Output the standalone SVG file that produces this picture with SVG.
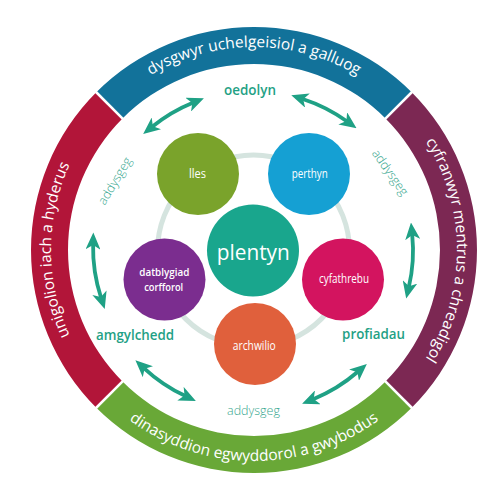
<svg xmlns="http://www.w3.org/2000/svg" width="500" height="500" viewBox="0 0 500 500">
<defs>
<style>
.seg-label{font-family:"Open Sans","Noto Sans","DejaVu Sans",sans-serif;font-size:15.5px;fill:#ffffff;}
.node-label{font-family:"Open Sans","Noto Sans","DejaVu Sans",sans-serif;font-size:12.5px;fill:#ffffff;text-anchor:middle;}
.ctx{font-family:"Open Sans","Noto Sans","DejaVu Sans",sans-serif;font-size:14.5px;fill:#1fa185;text-anchor:middle;font-weight:600;}
.ped{font-family:"Open Sans","Noto Sans","DejaVu Sans",sans-serif;font-size:12.5px;fill:#36a68e;text-anchor:middle;font-weight:300;}
.arrow{fill:none;stroke:#1fa185;stroke-width:3.8;marker-start:url(#ah);marker-end:url(#ah);}
.gap{stroke:#ffffff;stroke-width:2.5;}
</style>
<marker id="ah" markerUnits="userSpaceOnUse" viewBox="0 0 17 15" markerWidth="17" markerHeight="15" refX="5" refY="7.5" orient="auto-start-reverse">
<path d="M0,0 L17,7.5 L0,15 L4.5,7.5 Z" fill="#1fa185"/>
</marker>
<path id="tp-top" d="M110.46,106.46 A203,203 0 0 1 397.54,106.46"/>
<path id="tp-right" d="M397.54,106.46 A203,203 0 0 1 397.54,393.54"/>
<path id="tp-left" d="M110.46,393.54 A203,203 0 0 1 110.46,106.46"/>
<path id="tp-bottom" d="M104.8,399.2 A211,211 0 0 0 403.2,399.2"/>
</defs>

<g id="ring-top">
<path d="M96.32,92.32 A223,223 0 0 1 411.68,92.32 L385.52,118.48 A186,186 0 0 0 122.48,118.48 Z" fill="#12729a"/>
<text class="seg-label"><textPath href="#tp-top" startOffset="50%" text-anchor="middle">dysgwyr uchelgeisiol a galluog</textPath></text>
</g>
<g id="ring-right">
<path d="M411.68,92.32 A223,223 0 0 1 411.68,407.68 L385.52,381.52 A186,186 0 0 0 385.52,118.48 Z" fill="#7c2853"/>
<text class="seg-label"><textPath href="#tp-right" startOffset="50%" text-anchor="middle">cyfranwyr mentrus a chreadigol</textPath></text>
</g>
<g id="ring-bottom">
<path d="M411.68,407.68 A223,223 0 0 1 96.32,407.68 L122.48,381.52 A186,186 0 0 0 385.52,381.52 Z" fill="#69a837"/>
<text class="seg-label"><textPath href="#tp-bottom" startOffset="50%" text-anchor="middle">dinasyddion egwyddorol a gwybodus</textPath></text>
</g>
<g id="ring-left">
<path d="M96.32,407.68 A223,223 0 0 1 96.32,92.32 L122.48,118.48 A186,186 0 0 0 122.48,381.52 Z" fill="#b21539"/>
<text class="seg-label"><textPath href="#tp-left" startOffset="50%" text-anchor="middle">unigolion iach a hyderus</textPath></text>
</g>
<g id="ring-gaps">
<line class="gap" x1="124.6" y1="120.6" x2="93.5" y2="89.5"/>
<line class="gap" x1="383.4" y1="120.6" x2="414.5" y2="89.5"/>
<line class="gap" x1="383.4" y1="379.4" x2="414.5" y2="410.5"/>
<line class="gap" x1="124.6" y1="379.4" x2="93.5" y2="410.5"/>
</g>

<g id="connectors">
<circle cx="253.5" cy="251" r="96" fill="none" stroke="#d5e4df" stroke-width="5"/>
<path class="arrow" d="M152.5,126.5 A160,160 0 0 1 192.8,102.7"/>
<path class="arrow" d="M302.7,99.0 A160,160 0 0 1 346.8,121.3"/>
<path class="arrow" d="M93.1,244.5 A160,160 0 0 0 101.0,297.5"/>
<path class="arrow" d="M412.2,234.5 A160,160 0 0 1 408.9,286.8"/>
<path class="arrow" d="M144.2,368.3 A160,160 0 0 0 185.0,395.8"/>
<path class="arrow" d="M357.8,371.8 A160,160 0 0 1 313.2,399.2"/>
</g>

<g id="label-oedolyn"><text class="ctx" x="250" y="94.5" textLength="52" lengthAdjust="spacingAndGlyphs">oedolyn</text></g>
<g id="label-amgylchedd"><text class="ctx" x="135" y="339.5" textLength="78" lengthAdjust="spacingAndGlyphs">amgylchedd</text></g>
<g id="label-profiadau"><text class="ctx" x="373.6" y="338.5" textLength="63" lengthAdjust="spacingAndGlyphs">profiadau</text></g>
<g id="label-addysgeg-bottom"><text class="ped" x="253.5" y="414.5">addysgeg</text></g>
<g id="label-addysgeg-left"><text class="ped" transform="translate(115,181) rotate(-59)" x="0" y="4">addysgeg</text></g>
<g id="label-addysgeg-right"><text class="ped" transform="translate(390,172.5) rotate(55)" x="0" y="4">addysgeg</text></g>

<g id="node-lles">
<circle cx="198" cy="174" r="41" fill="#7aa32b"/>
<text class="node-label" x="197.5" y="177.5" textLength="17" lengthAdjust="spacingAndGlyphs">lles</text>
</g>
<g id="node-perthyn">
<circle cx="309" cy="174" r="41" fill="#15a0d3"/>
<text class="node-label" x="309.7" y="178" textLength="36" lengthAdjust="spacingAndGlyphs">perthyn</text>
</g>
<g id="node-datblygiad">
<circle cx="164.5" cy="279.5" r="41" fill="#7b2d8f"/>
<text class="node-label" x="164.3" y="275.5" style="font-size:11.5px" textLength="50" lengthAdjust="spacingAndGlyphs" font-weight="600">datblygiad</text>
<text class="node-label" x="163.7" y="290.5" style="font-size:11.5px" textLength="39" lengthAdjust="spacingAndGlyphs" font-weight="600">corfforol</text>
</g>
<g id="node-cyfathrebu">
<circle cx="343" cy="279.5" r="41" fill="#d3145f"/>
<text class="node-label" x="344" y="283.3" textLength="50" lengthAdjust="spacingAndGlyphs">cyfathrebu</text>
</g>
<g id="node-archwilio">
<circle cx="255" cy="344" r="41" fill="#e0603c"/>
<text class="node-label" x="254.3" y="350" textLength="43" lengthAdjust="spacingAndGlyphs">archwilio</text>
</g>
<g id="node-plentyn">
<circle cx="253" cy="250.5" r="46" fill="#19a68d"/>
<text class="node-label" x="253.3" y="260" style="font-size:21.5px" textLength="73" lengthAdjust="spacingAndGlyphs">plentyn</text>
</g>
</svg>
